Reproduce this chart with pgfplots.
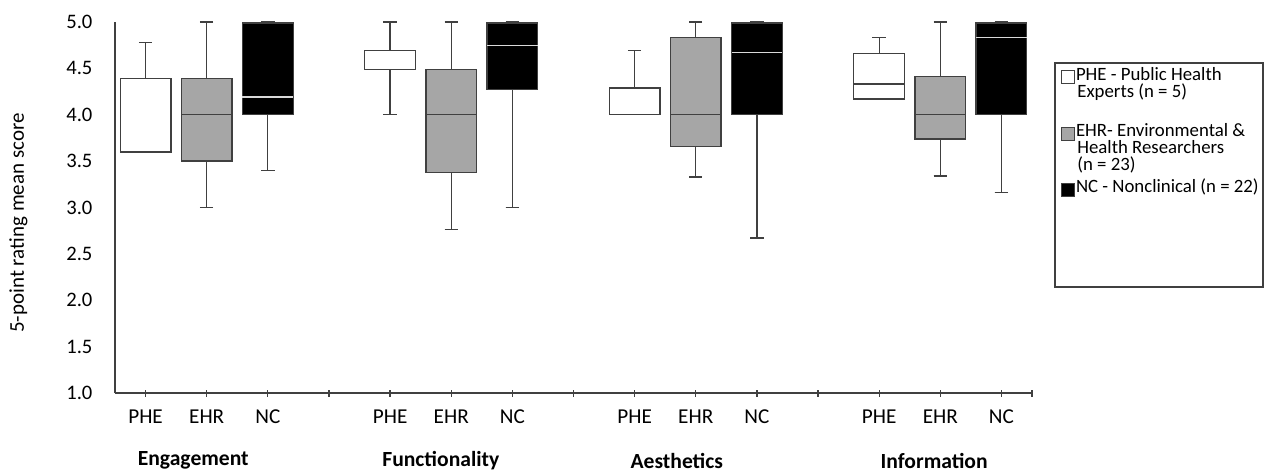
\documentclass[border=0pt]{standalone}
\usepackage{fontspec}
\setmainfont{Carlito}
\usepackage{pgfplots}
\pgfplotsset{compat=1.18}
\usepgfplotslibrary{statistics}
\definecolor{edge}{HTML}{404040}
\definecolor{ehrgray}{HTML}{A6A6A6}
\definecolor{medlight}{HTML}{D9D9D9}
\pgfplotsset{
  boxbase/.style={solid, mark=none, draw=edge, line width=0.65pt,
    boxplot/draw direction=y,
    boxplot/box extend=0.83, boxplot/whisker extend=0.22},
  phe/.style={boxbase, fill=white, boxplot/every median/.style={draw=edge, line width=0.65pt}},
  ehr/.style={boxbase, fill=ehrgray, boxplot/every median/.style={draw=edge, line width=0.65pt}},
  nc/.style={boxbase, fill=black, boxplot/every median/.style={draw=medlight, line width=0.65pt}},
}
\begin{document}
\begin{tikzpicture}
\path[use as bounding box] (-57.5pt,-40pt) rectangle (575pt,196.5pt);
\begin{axis}[
  scale only axis, width=458.5pt, height=185.5pt,
  xmin=0.5, xmax=15.5, ymin=1, ymax=5,
  axis lines*=left,
  axis line style={draw=edge, line width=0.65pt},
  ytick={1,1.5,2,2.5,3,3.5,4,4.5,5},
  ytick style={draw=none},
  yticklabel style={/pgf/number format/.cd, fixed, fixed zerofill, precision=1, /tikz/.cd,
    font=\fontsize{10.3}{12}\selectfont, anchor=east, xshift=-6pt},
  /pgf/number format/assume math mode=true,
  xtick={1,2,3,4,5,6,7,8,9,10,11,12,13,14,15,15.5},
  xticklabels={PHE,EHR,NC,,PHE,EHR,NC,,PHE,EHR,NC,,PHE,EHR,NC,},
  xticklabel style={font=\fontsize{10.6}{12}\selectfont, yshift=-3.3pt},
  tick align=center, major tick length=3.5pt,
  xtick style={draw=edge, line width=0.65pt},
  clip=false,
]
% Engagement
\addplot[phe, boxplot prepared={draw position=1, lower whisker=3.6, lower quartile=3.6, median=3.6, upper quartile=4.39, upper whisker=4.78}] coordinates {};
\addplot[ehr, boxplot prepared={draw position=2, lower whisker=3.0, lower quartile=3.5, median=4.0, upper quartile=4.39, upper whisker=5.0}] coordinates {};
\addplot[nc, boxplot prepared={draw position=3, lower whisker=3.4, lower quartile=4.0, median=4.19, upper quartile=4.99, upper whisker=5.0}] coordinates {};
% Functionality
\addplot[phe, boxplot prepared={draw position=5, lower whisker=4.0, lower quartile=4.49, median=4.49, upper quartile=4.69, upper whisker=5.0}] coordinates {};
\addplot[ehr, boxplot prepared={draw position=6, lower whisker=2.76, lower quartile=3.38, median=4.0, upper quartile=4.49, upper whisker=5.0}] coordinates {};
\addplot[nc, boxplot prepared={draw position=7, lower whisker=3.0, lower quartile=4.27, median=4.75, upper quartile=4.99, upper whisker=5.0}] coordinates {};
% Aesthetics
\addplot[phe, boxplot prepared={draw position=9, lower whisker=4.0, lower quartile=4.0, median=4.0, upper quartile=4.29, upper whisker=4.69}] coordinates {};
\addplot[ehr, boxplot prepared={draw position=10, lower whisker=3.33, lower quartile=3.66, median=4.0, upper quartile=4.83, upper whisker=5.0}] coordinates {};
\addplot[nc, boxplot prepared={draw position=11, lower whisker=2.67, lower quartile=4.0, median=4.67, upper quartile=4.99, upper whisker=5.0}] coordinates {};
% Information
\addplot[phe, boxplot prepared={draw position=13, lower whisker=4.17, lower quartile=4.17, median=4.33, upper quartile=4.66, upper whisker=4.83}] coordinates {};
\addplot[ehr, boxplot prepared={draw position=14, lower whisker=3.34, lower quartile=3.74, median=4.0, upper quartile=4.41, upper whisker=5.0}] coordinates {};
\addplot[nc, boxplot prepared={draw position=15, lower whisker=3.16, lower quartile=4.0, median=4.83, upper quartile=4.99, upper whisker=5.0}] coordinates {};
% group labels
\node[font=\fontsize{10.8}{12}\selectfont\bfseries] at (axis cs:1.78,0.27) {Engagement};
\node[font=\fontsize{10.8}{12}\selectfont\bfseries] at (axis cs:5.83,0.27) {Functionality};
\node[font=\fontsize{10.8}{12}\selectfont\bfseries] at (axis cs:9.69,0.27) {Aesthetics};
\node[font=\fontsize{10.8}{12}\selectfont\bfseries] at (axis cs:13.90,0.27) {Information};
\end{axis}
% y label
\node[rotate=90, font=\fontsize{10.5}{12}\selectfont] at (-48.3pt,85pt) {5-point rating mean score};
% legend
\draw[edge, line width=0.6pt] (470pt,53pt) rectangle (574pt,165pt);
\draw[edge, line width=0.5pt, fill=white] (473pt,154.8pt) rectangle (479.5pt,161.5pt);
\draw[edge, line width=0.5pt, fill=ehrgray] (473pt,126.5pt) rectangle (479.5pt,133pt);
\draw[edge, line width=0.5pt, fill=black] (473pt,98.5pt) rectangle (479.5pt,105pt);
\begin{scope}[every node/.style={anchor=base west, inner sep=0pt, font=\fontsize{9.4}{10}\selectfont}]
\node at (480.3pt,156.2pt) {PHE - Public Health};
\node at (481pt,147.8pt) {Experts (n = 5)};
\node at (480.3pt,128.5pt) {EHR- Environmental \&};
\node at (481pt,119.8pt) {Health Researchers};
\node at (481pt,111.5pt) {(n = 23)};
\node at (480.3pt,100.5pt) {NC - Nonclinical (n = 22)};
\end{scope}
\end{tikzpicture}
\end{document}
